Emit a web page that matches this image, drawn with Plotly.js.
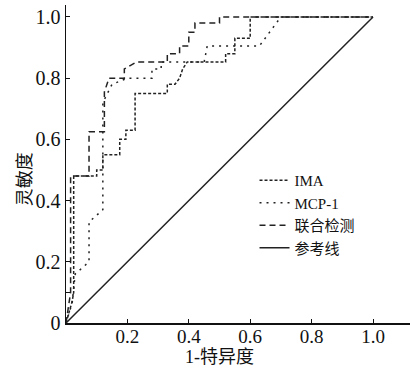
<!DOCTYPE html>
<html><head><meta charset="utf-8">
<script src="https://cdn.plot.ly/plotly-3.0.1.min.js"></script>
<style>html,body{margin:0;padding:0;background:#fff}#chart{width:410px;height:369px}</style>
</head><body><div id="chart"></div>
<script>
const seriesNames = ["IMA", "MCP-1", "联合检测", "参考线"];
const imaX = [0,0.02,0.025,0.025,0.1,0.1,0.12,0.12,0.175,0.175,0.195,0.195,0.225,0.225,0.33,0.33,0.355,0.37,0.38,0.395,0.52,0.52,0.55,0.55,0.6,0.6,1.0];
const imaY = [0,0.07,0.1,0.48,0.48,0.5,0.5,0.55,0.55,0.6,0.6,0.63,0.63,0.75,0.75,0.78,0.78,0.8,0.83,0.853,0.853,0.88,0.88,0.93,0.93,1.0,1.0];
const mcpX = [0,0.02,0.03,0.075,0.075,0.12,0.12,0.15,0.2,0.28,0.28,0.31,0.31,0.45,0.46,0.63,0.70,1.0];
const mcpY = [0,0.065,0.16,0.2,0.33,0.37,0.72,0.78,0.8,0.8,0.83,0.83,0.853,0.853,0.905,0.905,1.0,1.0];
const combX = [0,0.015,0.015,0.075,0.075,0.125,0.125,0.14,0.19,0.19,0.23,0.33,0.33,0.37,0.37,0.4,0.4,0.42,0.42,0.5,0.5,1.0];
const combY = [0,0.1,0.48,0.48,0.625,0.625,0.755,0.8,0.8,0.83,0.853,0.853,0.88,0.88,0.905,0.905,0.95,0.95,0.98,0.98,1.0,1.0];
const refX = [0,1];
const refY = [0,1];
const xTicks = [0.2,0.4,0.6,0.8,1.0];
const xTickText = ["0.2","0.4","0.6","0.8","1.0"];
const yTicks = [0,0.1,0.2,0.4,0.6,0.8,1.0];
const yTickText = ["0","","0.2","0.4","0.6","0.8","1.0"];

const serif = "Liberation Serif, Noto Sans CJK SC, serif";
const cjk = "Noto Sans CJK SC, sans-serif";
const lc = "#222";
const traces = [
  {x: imaX, y: imaY, name: seriesNames[0], mode: "lines", line: {color: lc, width: 1.5, dash: "3px,2px"}},
  {x: mcpX, y: mcpY, name: seriesNames[1], mode: "lines", line: {color: lc, width: 1.5, dash: "2px,5px"}},
  {x: combX, y: combY, name: seriesNames[2], mode: "lines", line: {color: lc, width: 1.5, dash: "6px,4px"}},
  {x: refX, y: refY, name: seriesNames[3], mode: "lines", line: {color: lc, width: 1.5}}
];
const layout = {
  width: 410, height: 369,
  margin: {l: 66, r: 0, t: 5, b: 46},
  paper_bgcolor: "#fff", plot_bgcolor: "#fff",
  showlegend: true,
  legend: {x: 0.548, y: 0.5, xanchor: "left", yanchor: "top", bgcolor: "rgba(0,0,0,0)",
           font: {family: serif, size: 15, color: "#111"}, tracegroupgap: 0},
  xaxis: {range: [0, 1.1205], showgrid: false, zeroline: false, showline: true, linecolor: "#111", linewidth: 1.5,
          ticks: "inside", ticklen: 4, tickcolor: "#111", tickvals: xTicks, ticktext: xTickText,
          ticklabelstandoff: -4,
          tickfont: {family: serif, size: 19, color: "#111"}, fixedrange: true},
  yaxis: {range: [0, 1.039], showgrid: false, zeroline: false, showline: true, linecolor: "#111", linewidth: 1.5,
          ticks: "inside", ticklen: 4, tickcolor: "#111", tickvals: yTicks, ticktext: yTickText,
          tickfont: {family: serif, size: 20, color: "#111"}, fixedrange: true},
  annotations: [
    {text: "1-特异度", x: 0.5, xref: "x", y: 0, yref: "paper", yshift: -46, showarrow: false,
     xanchor: "center", yanchor: "bottom", font: {family: serif, size: 18, color: "#111"}},
    {text: "灵敏度", x: 0, xref: "paper", xshift: -43, y: 0.47, yref: "y", showarrow: false, textangle: -90,
     xanchor: "center", yanchor: "middle", font: {family: cjk, size: 18, color: "#111"}}
  ]
};
Plotly.newPlot("chart", traces, layout, {displayModeBar: false, staticPlot: true});
</script></body></html>
